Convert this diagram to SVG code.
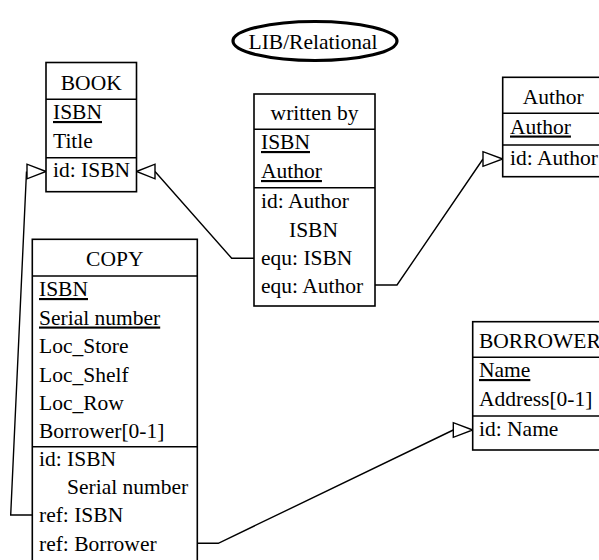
<svg xmlns="http://www.w3.org/2000/svg" width="599" height="560" viewBox="0 0 599 560">
<style>
text{font-family:"Liberation Serif","Times New Roman",serif;font-size:21.5px;fill:#000}
.h{text-anchor:middle}
.u{text-decoration:underline}
.box{fill:#fff;stroke:#000;stroke-width:1.6}
.sep{stroke:#000;stroke-width:1.6}
.con{fill:none;stroke:#000;stroke-width:1.4}
.arr{fill:#fff;stroke:#000;stroke-width:1.4}
</style>
<rect width="599" height="560" fill="#fff"/>
<g id="title">
<ellipse cx="315" cy="41" rx="82" ry="19.5" fill="#fff" stroke="#000" stroke-width="3.2"/>
<text x="313" y="48.5" class="h">LIB/Relational</text>
</g>
<g id="connectors">
<polyline class="con" points="32.3,515 10.7,515 26.5,171.5"/>
<polygon class="arr" points="46,171.5 27,164.2 27,178.8"/>
<polyline class="con" points="254,258.3 231.7,258.3 155,171.5"/>
<polygon class="arr" points="136.5,171.5 155,164.2 155,178.8"/>
<polyline class="con" points="375,285 397,285 483,159"/>
<polygon class="arr" points="502.7,159 483,151.7 483,166.3"/>
<polyline class="con" points="197.3,543.3 218.3,543.3 453.3,430"/>
<polygon class="arr" points="472.7,430 453.3,422.7 453.3,437.3"/>
</g>
<g id="book">
<rect class="box" x="46" y="62.5" width="90.5" height="129.2"/>
<line class="sep" x1="46" y1="99.3" x2="136.5" y2="99.3"/>
<line class="sep" x1="46" y1="157.7" x2="136.5" y2="157.7"/>
<text x="91.25" y="89.5" class="h">BOOK</text>
<text x="53" y="119" class="u">ISBN</text>
<text x="53" y="148">Title</text>
<text x="53" y="177">id: ISBN</text>
</g>
<g id="written-by">
<rect class="box" x="254" y="94" width="121" height="212"/>
<line class="sep" x1="254" y1="129.3" x2="375" y2="129.3"/>
<line class="sep" x1="254" y1="187.7" x2="375" y2="187.7"/>
<text x="314.5" y="119.5" class="h">written by</text>
<text x="261" y="149" class="u">ISBN</text>
<text x="261" y="178" class="u">Author</text>
<text x="261" y="207.5">id: Author</text>
<text x="289" y="236.5">ISBN</text>
<text x="261" y="265">equ: ISBN</text>
<text x="261" y="292.5">equ: Author</text>
</g>
<g id="author">
<rect class="box" x="502.7" y="77.3" width="101.3" height="99.4"/>
<line class="sep" x1="502.7" y1="113.3" x2="604" y2="113.3"/>
<line class="sep" x1="502.7" y1="145" x2="604" y2="145"/>
<text x="553.3" y="103.5" class="h">Author</text>
<text x="510" y="133.5" class="u">Author</text>
<text x="510" y="165">id: Author</text>
</g>
<g id="copy">
<rect class="box" x="32.3" y="239.3" width="165" height="330"/>
<line class="sep" x1="32.3" y1="276" x2="197.3" y2="276"/>
<line class="sep" x1="32.3" y1="446.7" x2="197.3" y2="446.7"/>
<text x="114.8" y="266" class="h">COPY</text>
<text x="39" y="296" class="u">ISBN</text>
<text x="39" y="324.5" class="u">Serial number</text>
<text x="39" y="353">Loc_Store</text>
<text x="39" y="381.5">Loc_Shelf</text>
<text x="39" y="410">Loc_Row</text>
<text x="39" y="438">Borrower[0-1]</text>
<text x="39" y="465.5">id: ISBN</text>
<text x="67" y="494">Serial number</text>
<text x="39" y="522">ref: ISBN</text>
<text x="39" y="550.5">ref: Borrower</text>
</g>
<g id="borrower">
<rect class="box" x="472.7" y="321.7" width="131.6" height="128.3"/>
<line class="sep" x1="472.7" y1="357.3" x2="604.3" y2="357.3"/>
<line class="sep" x1="472.7" y1="416" x2="604.3" y2="416"/>
<text x="479" y="347.5">BORROWER</text>
<text x="479" y="377" class="u">Name</text>
<text x="479" y="406">Address[0-1]</text>
<text x="479" y="435.5">id: Name</text>
</g>
</svg>
